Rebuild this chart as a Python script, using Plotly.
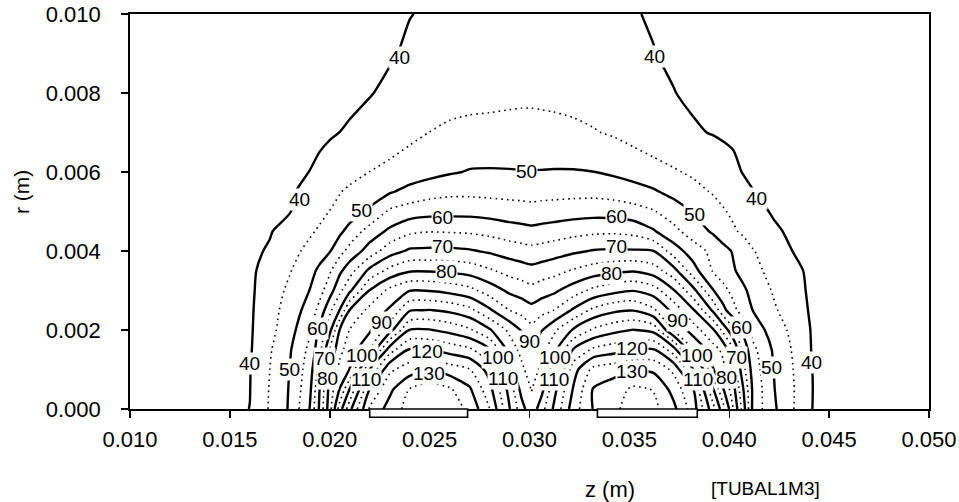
import plotly.graph_objects as go

# axial positions z (m) of the grid columns
z_pos = [0.0100, 0.0140, 0.0160, 0.0170, 0.0180, 0.0190, 0.0195, 0.0200, 0.0205, 0.0210,
         0.0220, 0.0230, 0.0240, 0.0250, 0.0260, 0.0270, 0.0280, 0.0290, 0.0296, 0.0301,
         0.0306, 0.0312, 0.0322, 0.0332, 0.0342, 0.0352, 0.0362, 0.0372, 0.0382, 0.0392,
         0.0397, 0.0402, 0.0407, 0.0412, 0.0422, 0.0432, 0.0442, 0.0462, 0.0500]

# radial positions r (m) of the grid rows
r_pos = [0.0, 0.0005, 0.0010, 0.0015, 0.0020, 0.0025, 0.0030, 0.0035, 0.0040,
         0.0045, 0.0050, 0.0055, 0.0060, 0.0070, 0.0080, 0.0090, 0.0100]

# temperature rows (one list per r value)
T_r00 = [36, 38, 40.05, 45.5, 50.6, 60.2, 71, 83, 97.5, 108.5, 125.7, 132, 137, 142, 138, 133.8, 125.2, 110.3, 102.1, 96.5,
         103, 110.5, 122.7, 130.3, 133.3, 138.5, 136.5, 131.4, 122.5, 106.7, 96.7, 85.2, 72.5, 58.3, 51, 45.2, 39.8, 38, 36]
T_r05 = [36, 38, 39.9, 45.3, 50.4, 58.7, 70.2, 81.9, 90.2, 100.2, 120.2, 128.8, 135.2, 137.5, 135.7, 130.7, 121.7, 108, 98.3, 94.8,
         98.3, 108, 120.5, 130.4, 132.5, 136, 134.8, 128.3, 120.2, 100.2, 90.2, 81.9, 70.2, 58.7, 50.4, 45.3, 39.9, 38, 36]
T_r10 = [36, 38, 39.8, 45, 50.1, 57.6, 66.7, 80.6, 86.2, 90.2, 110.2, 124, 127.5, 129.5, 127.5, 125.2, 117.9, 101.5, 96.2, 92.3,
         96.2, 101.5, 117.9, 126.5, 128, 129.5, 129, 124, 110.2, 90.2, 86.2, 78, 66.7, 57.6, 50.1, 45, 39.8, 38, 36]
T_r15 = [36, 38, 39.5, 44.5, 49.5, 56.25, 63.3, 75.2, 83.8, 87, 95.2, 112.5, 120.5, 120.2, 118, 116, 110.5, 98, 93.5, 90.7,
         93.5, 98, 110.5, 116, 118, 120.2, 120.5, 112.5, 95.2, 87, 83.8, 75.2, 63.3, 56.25, 49.5, 44.5, 39.5, 38, 36]
T_r20 = [36, 38, 39.4, 43.5, 48.2, 54.3, 61.4, 68.6, 80.2, 85.2, 89.2, 98, 110.2, 110.3, 108.5, 105.8, 100.6, 93.8, 89.7, 86.6,
         89.7, 93.8, 100.6, 105.8, 108.5, 110.2, 108.5, 95, 87.5, 80.5, 73.5, 66, 59, 53, 47.8, 43.7, 39.4, 38, 36]
T_r25 = [36, 38, 39.3, 43.1, 47.1, 52.1, 56.7, 63.8, 70.2, 80.2, 86.5, 90.7, 99.6, 100.2, 99, 96.5, 90.8, 85, 83.3, 81.7,
         83.3, 85, 90.8, 96.3, 99, 99.8, 96, 88.5, 80.5, 69, 61.5, 56.5, 52.5, 49.8, 45.8, 42.3, 39.2, 38, 36]
T_r30 = [36, 38, 39.2, 42.5, 46, 50.1, 53.3, 57.8, 63.8, 69, 80.2, 86.3, 89.8, 89.7, 88.5, 86.5, 82.7, 79, 77.8, 76.5,
         77.8, 79, 82.5, 86.3, 88.5, 89.8, 87.5, 80.5, 71.5, 60.2, 56.5, 53.5, 50.8, 48.5, 44.6, 41.5, 39.1, 38, 36]
T_r35 = [36, 37.8, 39.1, 41.9, 44.7, 48.5, 51, 54.3, 59, 62.9, 71.3, 76.5, 79.5, 79.6, 79, 78, 75.7, 73.3, 72.4, 71.6,
         72.4, 73.3, 75.5, 77.5, 78.8, 79.6, 77.5, 72.0, 62.0, 54.5, 52.5, 50.5, 48.5, 46.2, 43.7, 41, 39, 37.8, 36]
T_r40 = [36, 37.5, 38.8, 40.6, 43.4, 46.3, 48, 49.7, 53.3, 56.7, 62.2, 67.8, 70.8, 71, 71, 70.5, 69.3, 67.8, 67, 66.5,
         67, 67.8, 69.2, 70.3, 70.6, 70.5, 70.1, 62.5, 57.5, 53.5, 51.5, 49.6, 47.5, 45.2, 42.8, 39.9, 38.6, 37.5, 36]
T_r45 = [36, 37.2, 38.5, 39.6, 42.4, 44.3, 45.7, 47.3, 49, 51.7, 57.1, 61, 64, 64.8, 64.6, 64.3, 63.5, 62.3, 61.8, 61.3,
         61.8, 62.3, 63.3, 64, 64.2, 63.5, 60.5, 56.5, 52.5, 49.3, 47.3, 45.6, 44.2, 43.2, 40.7, 39.2, 38.3, 37.2, 36]
T_r50 = [36, 37, 38.2, 39, 39.8, 42.4, 43.7, 45.1, 46.3, 47.6, 50.7, 55.8, 57.5, 58.3, 58.5, 58.5, 58, 57.3, 57, 56.7,
         57, 57.3, 57.8, 58.1, 57.8, 56.9, 55.4, 52.5, 49.7, 46.8, 45.4, 44.2, 43.0, 41.4, 39.6, 39, 38.2, 37, 36]
T_r55 = [35.8, 36.8, 37.8, 38.6, 39.5, 41.2, 42.4, 43.6, 44.8, 45.9, 47.6, 49.5, 51.5, 53, 53.8, 53.8, 53.6, 53.4, 53.3, 53.2,
         53.3, 53.4, 53.5, 53.5, 53.0, 52.0, 50.6, 48.6, 46.4, 44.6, 43.6, 42.5, 41.3, 40.1, 39.0, 38.3, 37.6, 36.7, 35.8]
T_r60 = [35.7, 36.6, 37.5, 38.3, 39.2, 40.05, 40.85, 41.7, 42.5, 43.3, 45.05, 46.1, 47.3, 48.4, 49.5, 50.3, 50.4, 50.3, 50.2, 50.2,
         50.2, 50.3, 50.3, 50.05, 49.2, 48.0, 46.7, 45.5, 44.3, 42.6, 41.7, 41.0, 39.8, 39.2, 38.6, 37.9, 37.3, 36.6, 35.7]
T_r70 = [35.5, 36.2, 37, 37.6, 38.2, 38.8, 39.2, 39.6, 40.02, 40.5, 41.5, 42.7, 43.9, 45.05, 45.8, 46.2, 46.3, 46.5, 46.6, 46.6,
         46.5, 46.3, 45.9, 45.3, 44.5, 43.3, 42.2, 41.2, 40.4, 39.8, 39.5, 39.2, 38.9, 38.6, 38.1, 37.5, 37, 36.2, 35.5]
T_r80 = [35.3, 35.8, 36.5, 36.9, 37.3, 37.8, 38, 38.3, 38.6, 39, 39.8, 40.8, 41.8, 42.6, 43.2, 43.5, 43.7, 43.9, 44.0, 44.0,
         43.9, 43.8, 43.5, 42.9, 42.2, 41.5, 40.7, 40.1, 39.4, 38.8, 38.5, 38.2, 37.9, 37.7, 37.3, 36.9, 36.5, 35.8, 35.3]
T_r90 = [35.1, 35.5, 36, 36.3, 36.6, 37, 37.2, 37.5, 37.7, 38, 38.9, 39.6, 40.6, 41.3, 41.8, 42.2, 42.4, 42.5, 42.6, 42.6,
         42.6, 42.4, 42.0, 41.6, 41.1, 40.6, 40.1, 39.5, 38.9, 38.3, 38.0, 37.7, 37.5, 37.2, 36.7, 36.3, 36.0, 35.5, 35.1]
T_r100 = [35, 35.2, 35.6, 35.9, 36.2, 36.6, 36.8, 37, 37.3, 37.6, 38.3, 39.1, 39.9, 40.4, 40.7, 40.9, 41, 41, 41, 41,
          41, 41, 40.9, 40.7, 40.5, 40.2, 39.7, 39.1, 38.4, 37.8, 37.5, 37.2, 37.0, 36.8, 36.4, 36.0, 35.7, 35.3, 35]

# isotherm labels (text and where they sit on their lines)
label_text = ["40", "40", "40", "40", "40", "40",
              "50", "50", "50", "50", "50",
              "60", "60", "60", "60",
              "70", "70", "70", "70",
              "80", "80", "80", "80",
              "90", "90", "90",
              "100", "100", "100", "100",
              "110", "110", "110", "110",
              "120", "120", "130", "130"]
label_z = [0.02348, 0.03627, 0.01847, 0.04138, 0.01597, 0.04414,
           0.02985, 0.02158, 0.03827, 0.01797, 0.04213,
           0.02564, 0.03436, 0.01937, 0.04063,
           0.02564, 0.03436, 0.01972, 0.04038,
           0.02584, 0.03411, 0.01987, 0.03987,
           0.02258, 0.03000, 0.03742,
           0.02163, 0.02840, 0.03130, 0.03837,
           0.02183, 0.02865, 0.03125, 0.03842,
           0.02489, 0.03511, 0.02499, 0.03511]
label_r = [0.00889, 0.00892, 0.00531, 0.00534, 0.00114, 0.00118,
           0.00602, 0.00503, 0.00493, 0.00099, 0.00104,
           0.00485, 0.00488, 0.00205, 0.00206,
           0.00412, 0.00412, 0.00129, 0.00130,
           0.00348, 0.00344, 0.00078, 0.00079,
           0.00218, 0.00170, 0.00223,
           0.00135, 0.00131, 0.00131, 0.00136,
           0.00074, 0.00076, 0.00074, 0.00074,
           0.00146, 0.00153, 0.00090, 0.00095]

# heater positions under the axis (m)
heater_z0 = [0.0220, 0.0334]
heater_z1 = [0.0269, 0.0384]

x_ticks = [0.010, 0.015, 0.020, 0.025, 0.030, 0.035, 0.040, 0.045, 0.050]
x_tick_text = ["0.010", "0.015", "0.020", "0.025", "0.030", "0.035", "0.040", "0.045", "0.050"]
y_ticks = [0.000, 0.002, 0.004, 0.006, 0.008, 0.010]
y_tick_text = ["0.000", "0.002", "0.004", "0.006", "0.008", "0.010"]

T_grid = [T_r00, T_r05, T_r10, T_r15, T_r20, T_r25, T_r30, T_r35, T_r40,
          T_r45, T_r50, T_r55, T_r60, T_r70, T_r80, T_r90, T_r100]

FONT = "Liberation Sans"

fig = go.Figure()

# dotted intermediate isotherms
fig.add_trace(go.Contour(
    x=z_pos, y=r_pos, z=T_grid,
    autocontour=False,
    contours=dict(start=45, end=135, size=10, coloring="none", showlabels=False),
    line=dict(color="black", width=1.6, dash="1.6px,4px", smoothing=0.7),
    showscale=False, hoverinfo="skip",
))

# solid isotherms
fig.add_trace(go.Contour(
    x=z_pos, y=r_pos, z=T_grid,
    autocontour=False,
    contours=dict(start=40, end=130, size=10, coloring="none", showlabels=False),
    line=dict(color="black", width=2.4, smoothing=0.7),
    showscale=False, hoverinfo="skip",
))

for a, b in zip(heater_z0, heater_z1):
    fig.add_shape(type="rect", xref="x", yref="paper", x0=a, x1=b, y0=-0.021, y1=0.0,
                  line=dict(color="black", width=1.6), fillcolor="white", layer="above")

annotations = []
for t, zz, rr in zip(label_text, label_z, label_r):
    annotations.append(dict(text=t, x=zz, y=rr, xref="x", yref="y", showarrow=False,
                            font=dict(family=FONT, size=19, color="black"),
                            bgcolor="white", borderpad=0, xanchor="center", yanchor="middle"))

L, R, T, B = 130, 30, 14, 93
PW = 959 - L - R
PH = 502 - T - B

annotations += [
    dict(text="z (m)", xref="paper", yref="paper", x=(610 - L) / PW, y=(PH + T - 489) / PH,
         showarrow=False, font=dict(family=FONT, size=22, color="black"),
         xanchor="center", yanchor="middle"),
    dict(text="[TUBAL1M3]", xref="paper", yref="paper", x=(765 - L) / PW, y=(PH + T - 488) / PH,
         showarrow=False, font=dict(family=FONT, size=19, color="black"),
         xanchor="center", yanchor="middle"),
    dict(text="r (m)", xref="paper", yref="paper", x=(22 - L) / PW, y=(PH + T - 192) / PH,
         showarrow=False, textangle=-90, font=dict(family=FONT, size=21, color="black"),
         xanchor="center", yanchor="middle"),
]

fig.update_layout(
    width=959, height=502,
    margin=dict(l=L, r=R, t=T, b=B, autoexpand=False),
    paper_bgcolor="white", plot_bgcolor="white",
    showlegend=False,
    font=dict(family=FONT, color="black"),
    xaxis=dict(range=[0.010, 0.050], tickmode="array", tickvals=x_ticks, ticktext=x_tick_text,
               ticks="outside", ticklen=7, tickwidth=1.5, tickcolor="black",
               showline=True, linecolor="black", linewidth=1.8, mirror=True,
               showgrid=False, zeroline=False, automargin=False, ticklabeloverflow="allow",
               tickfont=dict(family=FONT, size=22, color="black"), ticklabelstandoff=3),
    yaxis=dict(range=[0.0, 0.010], tickmode="array", tickvals=y_ticks, ticktext=y_tick_text,
               ticks="outside", ticklen=7, tickwidth=1.5, tickcolor="black",
               showline=True, linecolor="black", linewidth=1.8, mirror=True,
               showgrid=False, zeroline=False, automargin=False, ticklabeloverflow="allow",
               tickfont=dict(family=FONT, size=22, color="black"), ticklabelstandoff=16),
    annotations=annotations,
)

# remove the default page margin so the figure sits at the window's top-left corner
fig.write_html("out.html",
               config={"displayModeBar": False, "staticPlot": True},
               post_script="document.body.style.margin='0';document.body.style.overflow='hidden';")
